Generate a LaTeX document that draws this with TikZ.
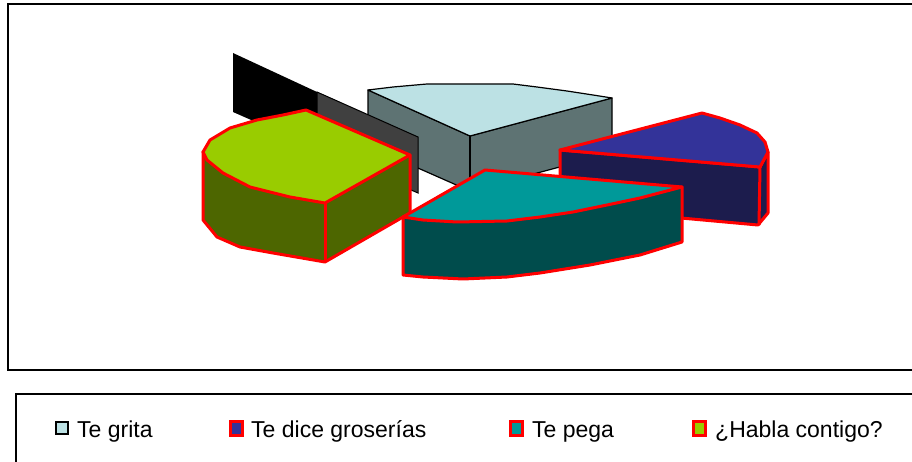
\documentclass[tikz,border=0pt]{standalone}
\usepackage{fontspec}
\setmainfont{Liberation Sans}
\definecolor{cyanTop}{HTML}{BCE1E4}
\definecolor{cyanSide}{HTML}{5E7373}
\definecolor{blueTop}{HTML}{333399}
\definecolor{blueSide}{HTML}{1C1C4D}
\definecolor{tealTop}{HTML}{009999}
\definecolor{tealSide}{HTML}{004C4C}
\definecolor{greenTop}{HTML}{99CC00}
\definecolor{greenSide}{HTML}{4D6600}
\definecolor{panelGray}{HTML}{404040}
\begin{document}
\begin{tikzpicture}[x=1pt,y=-1pt,
  redline/.style={draw=red,line width=3pt,line join=round},
  blkline/.style={draw=black,line width=1.2pt,line join=round},
  frameline/.style={draw=black,line width=2pt},
  redsq/.style={draw=red,line width=3pt,minimum width=12pt,minimum height=14pt,inner sep=0pt},
  graysq/.style={draw=black,line width=1.2pt,minimum width=12pt,minimum height=12pt,inner sep=0pt},
  lgtext/.style={anchor=base west,inner sep=0pt,font=\fontsize{23}{27}\selectfont}]
\useasboundingbox (0,0) rectangle (912,462);
\fill[white] (0,0) rectangle (912,462);

% frames
\draw[frameline] (915,4) -- (8,4) -- (8,370) -- (915,370);
\draw[frameline] (915,394) -- (16,394) -- (16,465);

% Te grita slice
\filldraw[fill=cyanSide, blkline] (368,90) -- (470,136) -- (612,98) -- (612,153) -- (470,191) -- (368,146) -- cycle;
\draw[blkline] (470,136) -- (470,191);
\filldraw[fill=cyanTop, blkline] (368,90) -- (393,87) -- (427,84) -- (460,84) -- (513,84) -- (537,87) -- (567,91) -- (593,95) -- (612,98) -- (470,136) -- cycle;

% dark panel
\fill[black] (233,53) -- (317,92) -- (317,149) -- (233,112) -- cycle;
\filldraw[fill=panelGray, draw=black, line width=1pt] (317,92) -- (418,137) -- (418,193) -- (317,149) -- cycle;

% Te dice groserias slice
\filldraw[fill=blueSide, redline] (560,150) -- (760,167) -- (768,152) -- (768,213) -- (758,225) -- (560,207) -- cycle;
\draw[redline] (760,167) -- (759,225);
\filldraw[fill=blueTop, redline] (560,150) -- (702,113) -- (720,118) -- (740,125) -- (757,133) -- (765,142) -- (768,152) -- (760,167) -- cycle;

% Habla contigo slice
\filldraw[fill=greenSide, redline] (203,152) -- (203,220) -- (217,237) -- (240,247) -- (273,253) -- (325,262) -- (410,213) -- (410,155) -- cycle;
\draw[redline] (325,203) -- (325,262);
\filldraw[fill=greenTop, redline] (306,110) -- (410,155) -- (325,203) -- (290,197) -- (250,187) -- (223,173) -- (207,160) -- (203,152) -- (210,140) -- (230,128) -- (257,120) -- (283,115) -- cycle;

% Te pega slice
\filldraw[fill=tealSide, redline] (403,217) -- (403,275) -- (423,277) -- (463,279) -- (507,277) -- (540,273) -- (590,265) -- (640,255) -- (682,242) -- (682,187) -- cycle;
\filldraw[fill=tealTop, redline] (485,170) -- (682,187) -- (640,198) -- (607,205) -- (573,212) -- (540,217) -- (507,221) -- (457,222) -- (423,220) -- (403,217) -- cycle;

% legend
\node[graysq, fill=cyanTop] (sq1) at (62,428) {};
\node[lgtext] (t1) at (77,437) {Te grita};
\node[redsq, fill=blueTop] (sq2) at (236,428) {};
\node[lgtext] (t2) at (251,437) {Te dice groserías};
\node[redsq, fill=tealTop] (sq3) at (516,428) {};
\node[lgtext] (t3) at (532,437) {Te pega};
\node[redsq, fill=greenTop] (sq4) at (699,428) {};
\node[lgtext] (t4) at (715,437) {¿Habla contigo?};
\end{tikzpicture}
\end{document}
